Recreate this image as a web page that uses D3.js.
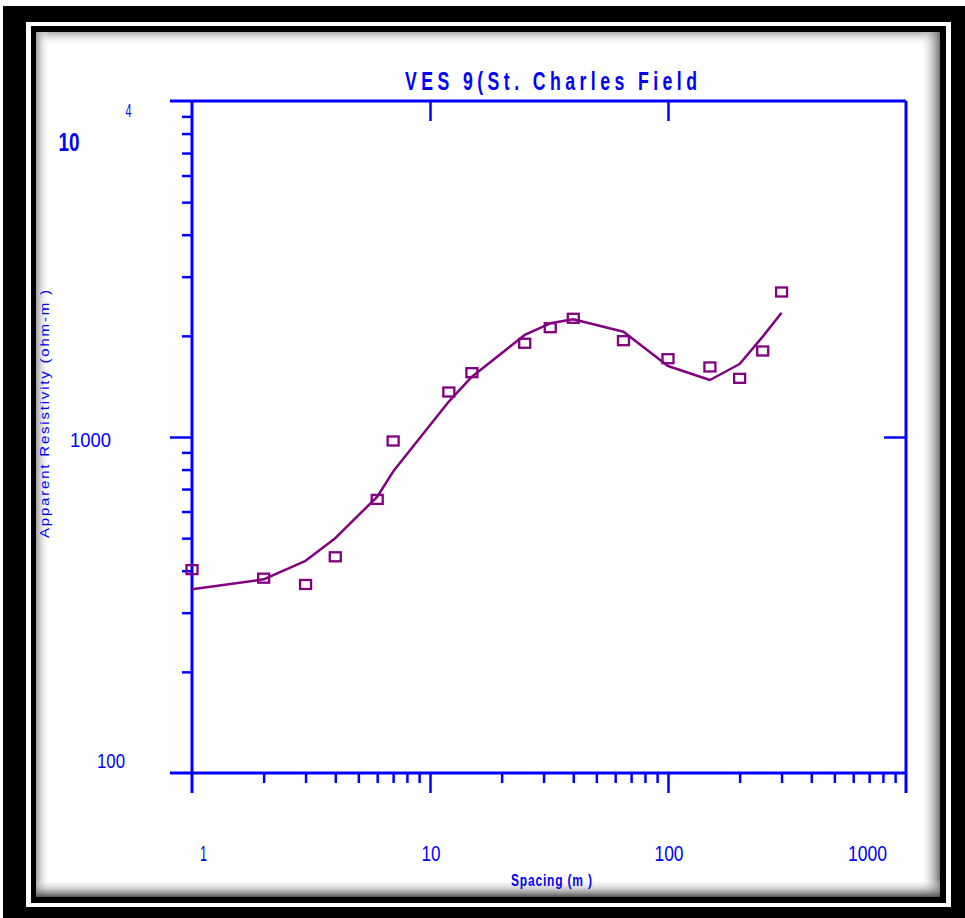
<!DOCTYPE html>
<html><head><meta charset="utf-8">
<script src="https://cdn.jsdelivr.net/npm/d3@7"></script>
<style>html,body{margin:0;padding:0;background:#fff;}svg{display:block;}</style>
</head><body>
<script>
// ---- data ----
const spacing   = [1, 2, 3, 4, 6, 7, 12, 15, 25, 32, 40, 65, 100, 150, 200, 250, 300];
const observed  = [403, 380, 364, 440, 652, 973, 1361, 1554, 1901, 2115, 2256, 1935, 1710, 1616, 1495, 1803, 2701];
const modelFit  = [352, 377, 428, 500, 664, 789, 1275, 1512, 2012, 2179, 2240, 2058, 1627, 1478, 1649, 1989, 2344];
const xTickLabels = ["1", "10", "100", "1000"];
const xMajor = [1, 10, 100, 1000];
const yMajor = [100, 1000, 10000];
const titleText = "VES 9(St. Charles Field";
const xTitle = "Spacing (m )";
const yTitle = "Apparent Resistivity  (ohm-m )";

const W = 965, H = 918;
const BLUE = "#0000ff", PURPLE = "#800080";
const svg = d3.select("body").append("svg").attr("width", W).attr("height", H);
const defs = svg.append("defs");

// ---- frame ----
svg.append("rect").attr("x",0).attr("y",0).attr("width",W).attr("height",H).attr("fill","#fff");
svg.append("rect").attr("x",3).attr("y",6).attr("width",962).attr("height",912).attr("fill","#000");
svg.append("rect").attr("x",26).attr("y",22).attr("width",925).attr("height",885).attr("fill","#fff");
svg.append("rect").attr("x",31).attr("y",26).attr("width",915).attr("height",877).attr("fill","#000");
const px0=36, py0=32, px1=940, py1=897;
svg.append("rect").attr("x",px0).attr("y",py0).attr("width",px1-px0).attr("height",py1-py0).attr("fill","#fff");
function grad(id,x1,y1,x2,y2,c){
  const g=defs.append("linearGradient").attr("id",id).attr("x1",x1).attr("y1",y1).attr("x2",x2).attr("y2",y2);
  g.append("stop").attr("offset","0").attr("stop-color",c);
  g.append("stop").attr("offset","1").attr("stop-color","#fff").attr("stop-opacity",0);
}
grad("gT",0,0,0,1,"#b0b0b0");grad("gL",0,0,1,0,"#a0a0a0");
grad("gR",1,0,0,0,"#707070");grad("gB",0,1,0,0,"#505050");
svg.append("rect").attr("x",px0).attr("y",py0).attr("width",px1-px0).attr("height",14).attr("fill","url(#gT)");
svg.append("rect").attr("x",px0).attr("y",py0).attr("width",14).attr("height",py1-py0).attr("fill","url(#gL)");
svg.append("rect").attr("x",px1-20).attr("y",py0).attr("width",20).attr("height",py1-py0).attr("fill","url(#gR)");
svg.append("rect").attr("x",px0).attr("y",py1-18).attr("width",px1-px0).attr("height",18).attr("fill","url(#gB)");

// ---- scales ----
const x = d3.scaleLog().domain([1,1000]).range([192,906]);
const y = d3.scaleLog().domain([100,10000]).range([773,101]);
const font = "'Liberation Sans', Arial, sans-serif";

const g = svg.append("g");
// axis lines
const ext = 22;
g.append("line").attr("x1",x(1)-ext).attr("x2",x(1000)).attr("y1",y(10000)).attr("y2",y(10000));
g.append("line").attr("x1",x(1)-ext).attr("x2",x(1000)).attr("y1",y(100)).attr("y2",y(100));
g.append("line").attr("x1",x(1)).attr("x2",x(1)).attr("y1",y(10000)).attr("y2",y(100)+20);
g.append("line").attr("x1",x(1000)).attr("x2",x(1000)).attr("y1",y(10000)).attr("y2",y(100)+20);
g.selectAll("line").attr("stroke",BLUE).attr("stroke-width",3);

// minor ticks via d3 axes
const xMinor = [];
[1,10,100].forEach(d=>{for(let k=2;k<=9;k++) xMinor.push(d*k);});
const yMinor = [];
[100,1000].forEach(d=>{for(let k=2;k<=9;k++) yMinor.push(d*k);});

function styleAxis(sel){
  sel.select(".domain").remove();
  sel.selectAll(".tick line").attr("stroke",BLUE).attr("stroke-width",2.5);
}
svg.append("g").attr("transform",`translate(0,${y(100)})`)
  .call(d3.axisBottom(x).tickValues(xMinor).tickSize(10).tickFormat("")).call(styleAxis);
svg.append("g").attr("transform",`translate(0,${y(100)})`)
  .call(d3.axisBottom(x).tickValues([10,100]).tickSize(20).tickFormat("")).call(styleAxis);
svg.append("g").attr("transform",`translate(0,${y(10000)})`)
  .call(d3.axisBottom(x).tickValues([10,100]).tickSize(20).tickFormat("")).call(styleAxis);
svg.append("g").attr("transform",`translate(${x(1)},0)`)
  .call(d3.axisLeft(y).tickValues(yMinor).tickSize(10).tickFormat("")).call(styleAxis);
svg.append("g").attr("transform",`translate(${x(1)},0)`)
  .call(d3.axisLeft(y).tickValues([1000]).tickSize(22).tickFormat("")).call(styleAxis);
svg.append("g").attr("transform",`translate(${x(1000)},0)`)
  .call(d3.axisLeft(y).tickValues([1000]).tickSize(22).tickFormat("")).call(styleAxis);

// x tick labels
const xl = svg.append("g").attr("fill",BLUE).attr("font-family",font).attr("font-size",22);
xMajor.forEach((v,i)=>{
  let cx = x(v) + 1;
  if(i===0) cx = x(v) + 11.5;
  if(i===xMajor.length-1) cx = x(v) - 38.5;
  const lab = xTickLabels[i];
  xl.append("text").attr("x",cx).attr("y",861).attr("text-anchor","middle")
    .attr("textLength", lab.length*10 - (lab.length>1?1:3)).attr("lengthAdjust","spacingAndGlyphs").text(lab);
});

// y tick labels
const yl = svg.append("g").attr("fill",BLUE).attr("font-family",font);
yl.append("text").attr("x",69).attr("y",y(10000)+50).attr("text-anchor","middle").attr("font-size",25)
  .attr("font-weight","bold").attr("textLength",21).attr("lengthAdjust","spacingAndGlyphs").text("10");
yl.append("text").attr("x",128.5).attr("y",y(10000)+16).attr("text-anchor","middle").attr("font-size",18)
  .attr("textLength",6).attr("lengthAdjust","spacingAndGlyphs").text("4");
yl.append("text").attr("x",90.5).attr("y",y(1000)+10).attr("text-anchor","middle").attr("font-size",21)
  .attr("textLength",41).attr("lengthAdjust","spacingAndGlyphs").text("1000");
yl.append("text").attr("x",111).attr("y",y(100)-5).attr("text-anchor","middle").attr("font-size",21)
  .attr("textLength",28).attr("lengthAdjust","spacingAndGlyphs").text("100");

// title (condensed glyphs, wide spacing)
const sx = 0.68;
svg.append("g").attr("transform",`translate(551,90) scale(${sx},1)`)
  .append("text").attr("x",0).attr("y",0).attr("text-anchor","middle").attr("fill",BLUE)
  .attr("font-family",font).attr("font-weight","bold").attr("font-size",26)
  .attr("textLength",292/sx).attr("lengthAdjust","spacing").text(titleText);

// axis titles
svg.append("g").attr("transform",`translate(551.5,886) scale(0.75,1)`)
  .append("text").attr("text-anchor","middle").attr("fill",BLUE)
  .attr("font-family",font).attr("font-weight","bold").attr("font-size",16)
  .attr("textLength",81/0.75).attr("lengthAdjust","spacing").text(xTitle);
svg.append("g").attr("transform","translate(49,414) rotate(-90) scale(1,0.85)")
  .append("text").attr("text-anchor","middle").attr("fill",BLUE)
  .attr("font-family",font).attr("font-size",15)
  .attr("textLength",248).attr("lengthAdjust","spacing").text(yTitle);

// model curve
const line = d3.line().x((d,i)=>x(spacing[i])).y(d=>y(d));
svg.append("path").datum(modelFit).attr("d",line).attr("fill","none")
  .attr("stroke",PURPLE).attr("stroke-width",2.5).attr("stroke-linejoin","round");

// observed points
svg.append("g").selectAll("rect").data(observed).join("rect")
  .attr("x",(d,i)=>x(spacing[i])-5.5).attr("y",d=>y(d)-4.5)
  .attr("width",11).attr("height",9)
  .attr("fill","none").attr("stroke",PURPLE).attr("stroke-width",2.3);
</script>
</body></html>
